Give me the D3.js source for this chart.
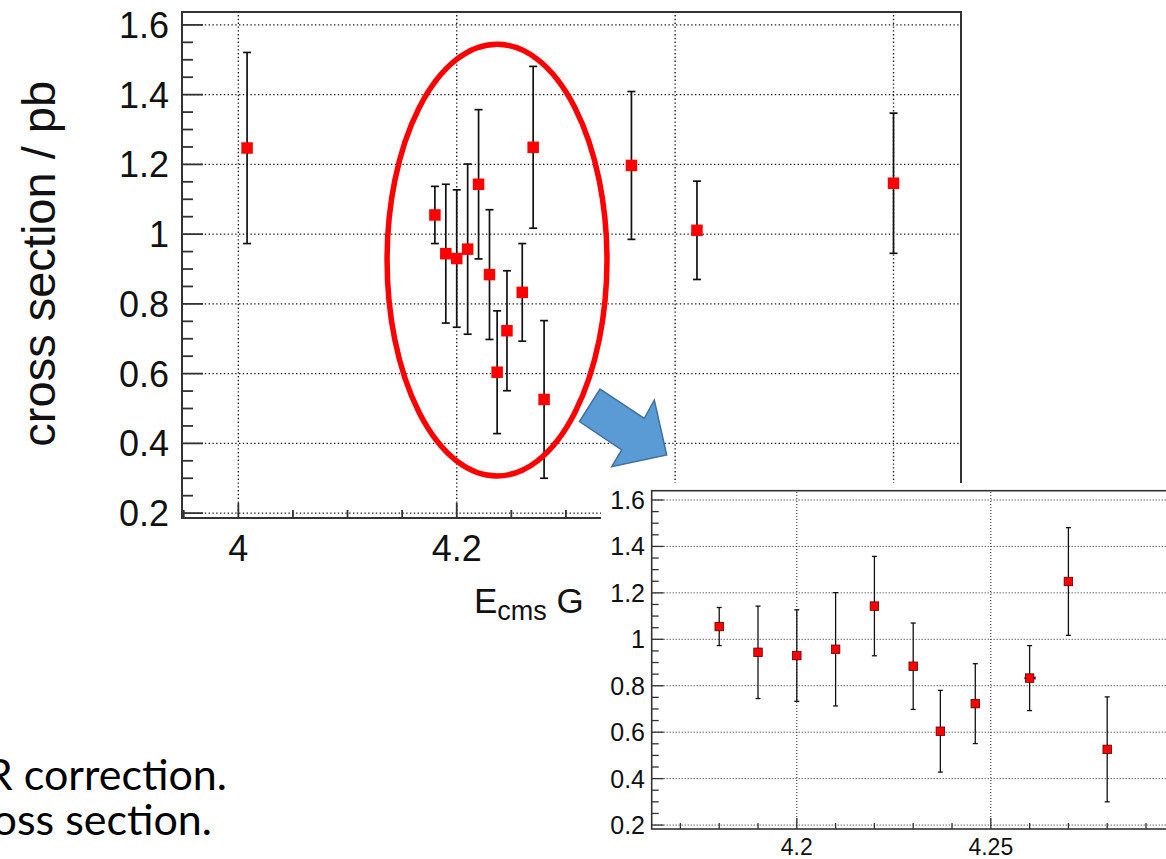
<!DOCTYPE html>
<html>
<head>
<meta charset="utf-8">
<script src="https://cdn.jsdelivr.net/npm/d3@7"></script>
<style>
  html, body { margin: 0; padding: 0; background: #fff; }
  svg { display: block; }
</style>
</head>
<body>
<svg id="chart" width="1166" height="859"></svg>
<script>
// ---------------- data ----------------
const energies = [4.008, 4.18, 4.19, 4.20, 4.21, 4.22, 4.23, 4.237, 4.246, 4.26, 4.27, 4.28, 4.36, 4.42, 4.60];
const xsec     = [1.247, 1.055, 0.944, 0.930, 0.957, 1.143, 0.884, 0.604, 0.723, 0.833, 1.249, 0.526, 1.197, 1.011, 1.146];
const xsecErr  = [0.274, 0.082, 0.199, 0.197, 0.244, 0.214, 0.186, 0.176, 0.172, 0.140, 0.232, 0.226, 0.212, 0.141, 0.201];
const energyErr = [0, 0, 0, 0, 0, 0, 0, 0, 0, 0.0014, 0, 0, 0, 0, 0];

const mainXTicks = [4.0, 4.2, 4.4, 4.6];
const mainYTicks = [0.2, 0.4, 0.6, 0.8, 1.0, 1.2, 1.4, 1.6];
const insetXTicks = [4.2, 4.25];
const insetYTicks = [0.2, 0.4, 0.6, 0.8, 1.0, 1.2, 1.4, 1.6];

const yTitle = "cross section / pb";
const xTitleMain = "E", xTitleSub = "cms", xTitleUnit = " G";
const noteLines = ["R correction.", "oss section."];

// ---------------- setup ----------------
const FONT = "'Liberation Sans', Arial, Helvetica, sans-serif";
const svg = d3.select("#chart");
const fmt = d3.format("~g");
const points = energies.map((e, i) => ({ x: e, y: xsec[i], ey: xsecErr[i], ex: energyErr[i] }));

function drawPanel(g, o) {
  const x = o.x, y = o.y;
  const [xl, xr] = x.range();
  const [yb, yt] = y.range();

  // grid (dotted)
  g.append("g").selectAll("line").data(o.yTicks).join("line")
    .attr("x1", xl).attr("x2", xr).attr("y1", d => y(d)).attr("y2", d => y(d))
    .attr("stroke", "#222").attr("stroke-width", o.gridW).attr("stroke-dasharray", o.gridDash);
  g.append("g").selectAll("line").data(o.xTicks).join("line")
    .attr("x1", d => x(d)).attr("x2", d => x(d)).attr("y1", yb).attr("y2", yt)
    .attr("stroke", "#222").attr("stroke-width", o.gridW).attr("stroke-dasharray", o.gridDash);

  // minor + major ticks, y axis (inward)
  const yMinor = d3.range(Math.ceil(y.domain()[0] / o.yMinorStep - 1e-9), Math.floor(y.domain()[1] / o.yMinorStep + 1e-9) + 1)
    .map(k => +(k * o.yMinorStep).toFixed(4));
  g.append("g").selectAll("line").data(yMinor).join("line")
    .attr("x1", xl).attr("x2", d => xl + (o.yTicks.some(t => Math.abs(t - d) < 1e-6) ? o.yMajLen : o.yMinLen))
    .attr("y1", d => y(d)).attr("y2", d => y(d))
    .attr("stroke", "#333").attr("stroke-width", o.tickW);
  const xMinor = d3.range(Math.ceil(x.domain()[0] / o.xMinorStep - 1e-9), Math.floor(x.domain()[1] / o.xMinorStep + 1e-9) + 1)
    .map(k => +(k * o.xMinorStep).toFixed(4));
  g.append("g").selectAll("line").data(xMinor).join("line")
    .attr("x1", d => x(d)).attr("x2", d => x(d))
    .attr("y1", yb).attr("y2", d => yb - (o.xTicks.some(t => Math.abs(t - d) < 1e-6) ? o.xMajLen : o.xMinLen))
    .attr("stroke", "#333").attr("stroke-width", o.tickW);

  // frame
  g.append("rect").attr("x", xl).attr("y", yt).attr("width", xr - xl).attr("height", yb - yt)
    .attr("fill", "none").attr("stroke", "#333").attr("stroke-width", o.frameW);

  // tick labels
  g.append("g").selectAll("text").data(o.yTicks).join("text")
    .attr("x", o.yLabelX).attr("y", d => y(d)).attr("dy", "0.36em")
    .attr("text-anchor", "end").attr("font-family", FONT).attr("font-size", o.labelSize)
    .attr("fill", "#111").text(d => fmt(d));
  g.append("g").selectAll("text").data(o.xTicks).join("text")
    .attr("x", d => x(d)).attr("y", o.xLabelY)
    .attr("text-anchor", "middle").attr("font-family", FONT).attr("font-size", o.xLabelSize || o.labelSize)
    .attr("fill", "#111").text(d => fmt(d));

  // data: error bars then markers
  const pts = points.filter(p => p.x >= x.domain()[0] && p.x <= x.domain()[1]);
  const eb = g.append("g").attr("stroke", "#111").attr("stroke-width", o.errW);
  eb.selectAll("line.v").data(pts).join("line").attr("class", "v")
    .attr("x1", d => x(d.x)).attr("x2", d => x(d.x))
    .attr("y1", d => y(d.y - d.ey)).attr("y2", d => y(d.y + d.ey));
  eb.selectAll("line.t").data(pts).join("line").attr("class", "t")
    .attr("x1", d => x(d.x) - o.cap).attr("x2", d => x(d.x) + o.cap)
    .attr("y1", d => y(d.y + d.ey)).attr("y2", d => y(d.y + d.ey));
  eb.selectAll("line.b").data(pts).join("line").attr("class", "b")
    .attr("x1", d => x(d.x) - o.cap).attr("x2", d => x(d.x) + o.cap)
    .attr("y1", d => y(d.y - d.ey)).attr("y2", d => y(d.y - d.ey));
  const pex = pts.filter(d => d.ex > 0);
  eb.selectAll("line.h").data(pex).join("line").attr("class", "h")
    .attr("x1", d => x(d.x - d.ex)).attr("x2", d => x(d.x + d.ex))
    .attr("y1", d => y(d.y)).attr("y2", d => y(d.y));
  eb.selectAll("line.hc").data(pex).join("line").attr("class", "hc")
    .attr("x1", d => x(d.x + d.ex)).attr("x2", d => x(d.x + d.ex))
    .attr("y1", d => y(d.y) - o.cap * 0.6).attr("y2", d => y(d.y) + o.cap * 0.6);

  g.append("g").selectAll("rect").data(pts).join("rect")
    .attr("x", d => x(d.x) - o.mk / 2).attr("y", d => y(d.y) - o.mk / 2)
    .attr("width", o.mk).attr("height", o.mk)
    .attr("fill", "#ff0000").attr("stroke", o.mkStroke).attr("stroke-width", o.mkStrokeW);
}

// ---------------- main chart ----------------
const mainX = d3.scaleLinear().domain([3.9484, 4.6618]).range([182, 961]);
const mainY = d3.scaleLinear().domain([0.186, 1.637]).range([518, 12]);
const gMain = svg.append("g");
drawPanel(gMain, {
  x: mainX, y: mainY, xTicks: mainXTicks, yTicks: mainYTicks,
  xMinorStep: 0.05, yMinorStep: 0.05,
  yMajLen: 21, yMinLen: 11, xMajLen: 15, xMinLen: 8,
  gridW: 1.4, gridDash: "1.4,2.4", tickW: 1.8, frameW: 2,
  labelSize: 36, yLabelX: 169, xLabelY: 561,
  errW: 1.7, cap: 4, mk: 11.5, mkStroke: "none", mkStrokeW: 0
});

// axis titles
svg.append("text")
  .attr("transform", `translate(55,${mainY(0.915)}) rotate(-90)`)
  .attr("text-anchor", "middle").attr("font-family", FONT).attr("font-size", 47)
  .attr("fill", "#111").text(yTitle);
const xt = svg.append("text").attr("x", 474).attr("y", 613)
  .attr("font-family", FONT).attr("font-size", 35).attr("fill", "#111");
xt.append("tspan").text(xTitleMain);
xt.append("tspan").attr("font-size", 27).attr("dy", 7).text(xTitleSub);
xt.append("tspan").attr("dy", -7).text(xTitleUnit);

// ---------------- annotations on main chart ----------------
const ell = { cx: 4.2369, cy: 0.9255, rx: 0.1007, ry: 0.619 };
svg.append("ellipse")
  .attr("cx", mainX(ell.cx)).attr("cy", mainY(ell.cy))
  .attr("rx", mainX(ell.cx + ell.rx) - mainX(ell.cx))
  .attr("ry", mainY(ell.cy) - mainY(ell.cy + ell.ry))
  .attr("fill", "none").attr("stroke", "#ff0000").attr("stroke-width", 5.5);

const arrowPts = [[579.5, 421.5], [600, 389], [644.3, 418.3], [654.3, 400], [666.7, 455], [611.7, 466.7], [621.7, 450]];
svg.append("polygon")
  .attr("points", arrowPts.map(p => p.join(",")).join(" "))
  .attr("fill", "#5b9bd5").attr("stroke", "#41719c").attr("stroke-width", 1.5)
  .attr("stroke-linejoin", "miter");

// ---------------- inset (zoom of 4.17 - 4.29) ----------------
svg.append("rect").attr("x", 601).attr("y", 483).attr("width", 565).attr("height", 376).attr("fill", "#fff");
const insX = d3.scaleLinear().domain([4.1626, 4.30]).range([651.7, 1184.8]);
const insY = d3.scaleLinear().domain([0.183, 1.640]).range([829, 490.7]);
drawPanel(svg.append("g"), {
  x: insX, y: insY, xTicks: insetXTicks, yTicks: insetYTicks,
  xMinorStep: 0.01, yMinorStep: 0.05,
  yMajLen: 12, yMinLen: 7, xMajLen: 11, xMinLen: 6,
  gridW: 1, gridDash: "1,2", tickW: 1.3, frameW: 1.6,
  labelSize: 25, xLabelSize: 23, yLabelX: 645, xLabelY: 855,
  errW: 1.3, cap: 2.5, mk: 8.5, mkStroke: "#5a0000", mkStrokeW: 0.8
});

// ---------------- slide text fragments ----------------
svg.append("g").selectAll("text").data(noteLines).join("text")
  .attr("x", (d, i) => i === 0 ? 227 : 212)
  .attr("y", (d, i) => i === 0 ? 790 : 835)
  .attr("text-anchor", "end")
  .attr("font-family", "Lato, 'Open Sans', sans-serif").attr("font-size", 43)
  .attr("fill", "#000").text(d => d);
</script>
</body>
</html>
